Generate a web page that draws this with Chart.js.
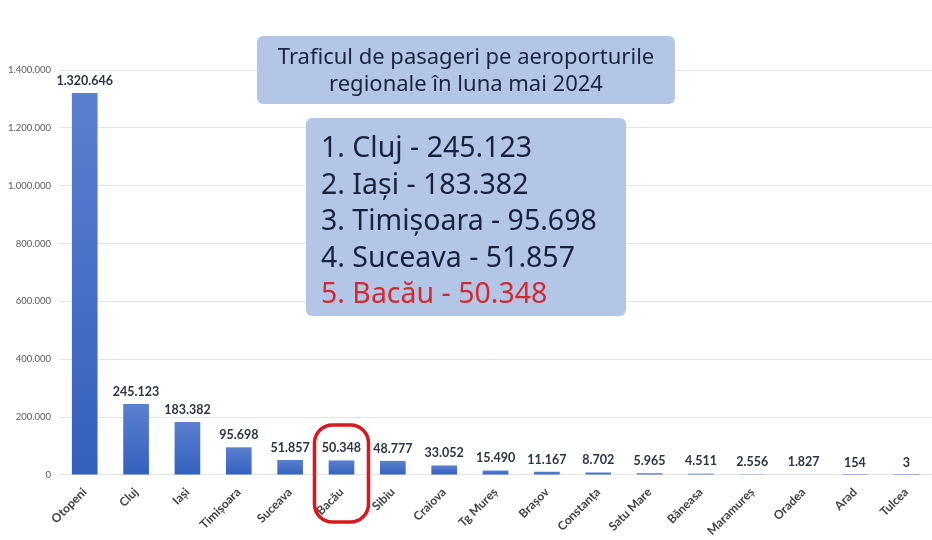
<!DOCTYPE html>
<html>
<head>
<meta charset="utf-8">
<script src="https://cdn.jsdelivr.net/npm/chart.js@4.4.1/dist/chart.umd.min.js"></script>
<style>
  html, body { margin: 0; padding: 0; background: #ffffff; }
  #wrap { width: 932px; height: 540px; }
</style>
</head>
<body>
<div id="wrap"><canvas id="chart" width="932" height="540"></canvas></div>
<script>
// Airports (categories)
const airports = [
  "Otopeni", "Cluj", "Iași", "Timișoara", "Suceava", "Bacău", "Sibiu", "Craiova",
  "Tg Mureș", "Brașov", "Constanța", "Satu Mare", "Băneasa", "Maramureș", "Oradea", "Arad", "Tulcea"
];
// Passengers in May 2024
const passengers = [
  1320646, 245123, 183382, 95698, 51857, 50348, 48777, 33052,
  15490, 11167, 8702, 5965, 4511, 2556, 1827, 154, 3
];
// Y axis ticks
const yMax = 1400000;
const yStep = 200000;

const titleLines = ["Traficul de pasageri pe aeroporturile", "regionale în luna mai 2024"];
const topFive = ["1. Cluj - 245.123", "2. Iași - 183.382", "3. Timișoara - 95.698", "4. Suceava - 51.857", "5. Bacău - 50.348"];
const highlighted = "Bacău";

// 1320646 -> "1.320.646"
const fmt = (v) => String(v).replace(/\B(?=(\d{3})+(?!\d))/g, ".");

function roundRect(ctx, x, y, w, h, r) {
  ctx.beginPath();
  ctx.moveTo(x + r, y);
  ctx.arcTo(x + w, y, x + w, y + h, r);
  ctx.arcTo(x + w, y + h, x, y + h, r);
  ctx.arcTo(x, y + h, x, y, r);
  ctx.arcTo(x, y, x + w, y, r);
  ctx.closePath();
}

// Values above bars, info boxes and the red highlight
const overlay = {
  id: "overlay",
  afterDatasetsDraw(chart) {
    const ctx = chart.ctx;
    const meta = chart.getDatasetMeta(0);
    ctx.save();
    ctx.font = "bold 12.5px Lato, sans-serif";
    ctx.fillStyle = "#2b3445";
    ctx.textAlign = "center";
    ctx.textBaseline = "bottom";
    meta.data.forEach((bar, i) => {
      ctx.fillText(fmt(passengers[i]), bar.x, bar.y - 6);
    });

    // title box
    ctx.fillStyle = "#b4c6e7";
    roundRect(ctx, 257, 36, 418, 68, 6);
    ctx.fill();
    ctx.fillStyle = "#1a2340";
    ctx.font = "22px 'Noto Sans', sans-serif";
    ctx.textBaseline = "middle";
    ctx.fillText(titleLines[0], 466, 58);
    ctx.fillText(titleLines[1], 466, 85);

    // top five box
    ctx.fillStyle = "#b4c6e7";
    roundRect(ctx, 306, 118, 320, 198, 6);
    ctx.fill();
    ctx.font = "28.5px 'Noto Sans', sans-serif";
    ctx.textAlign = "left";
    topFive.forEach((line, i) => {
      ctx.fillStyle = i === 4 ? "#d42a2f" : "#18213d";
      ctx.fillText(line, 321, 149 + i * 36.5);
    });

    // red rounded frame around the highlighted airport
    const hi = airports.indexOf(highlighted);
    const hx = meta.data[hi].x;
    ctx.strokeStyle = "#d7191f";
    ctx.lineWidth = 3.5;
    roundRect(ctx, hx - 27, 425, 54, 97, 18);
    ctx.stroke();
    ctx.restore();
  }
};

new Chart(document.getElementById("chart"), {
  type: "bar",
  plugins: [overlay],
  data: {
    labels: airports,
    datasets: [{
      data: passengers,
      barPercentage: 0.5,
      categoryPercentage: 1,
      // lighter at the top, darker at the base, per bar
      backgroundColor: (c) => {
        const chart = c.chart;
        if (!chart.chartArea || c.type !== "data") return "#4a72c8";
        const y = chart.scales.y;
        const top = y.getPixelForValue(c.raw);
        const base = y.getPixelForValue(0);
        if (base - top < 2) return "#4a72c8";
        const g = chart.ctx.createLinearGradient(0, top, 0, base);
        g.addColorStop(0, "#5b80d0");
        g.addColorStop(1, "#3460bd");
        return g;
      }
    }]
  },
  options: {
    responsive: false,
    animation: false,
    layout: { padding: { top: 70, left: 0, right: 0, bottom: 0 } },
    plugins: {
      legend: { display: false },
      tooltip: { enabled: false }
    },
    scales: {
      x: {
        grid: { display: false },
        border: { display: false },
        ticks: {
          maxRotation: 45,
          minRotation: 45,
          color: "#404040",
          font: { family: "Lato, sans-serif", size: 12, weight: "bold" },
          padding: 2
        }
      },
      y: {
        min: 0,
        max: yMax,
        border: { display: false },
        grid: { color: "#e4e4e4", drawTicks: false },
        ticks: {
          stepSize: yStep,
          color: "#595959",
          padding: 8,
          font: { family: "Lato, sans-serif", size: 9.5 },
          callback: (v) => fmt(v)
        }
      }
    }
  }
});
</script>
</body>
</html>
